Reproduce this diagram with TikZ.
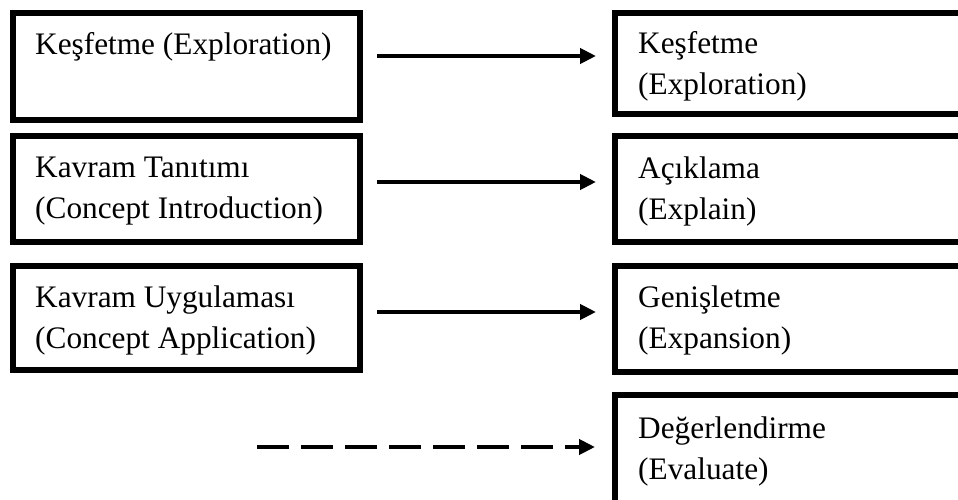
\documentclass[tikz,border=0pt]{standalone}
\usepackage{fontspec}
\setmainfont{Liberation Serif}
\usetikzlibrary{arrows.meta}
\begin{document}
\begin{tikzpicture}[x=1pt,y=-1pt,
  stage/.style={draw=black, line width=6pt, rectangle, outer sep=0pt,
    inner sep=0pt, anchor=north west},
  leftstage/.style={stage, minimum width=347pt},
  rightstage/.style={stage, minimum width=360pt},
  % base anchor of a two-line text sits on its last line
  stagetext/.style={anchor=base west, inner sep=0pt, align=left,
    font=\fontsize{31.3}{41}\selectfont},
  flow/.style={line width=4.5pt, -{Triangle[length=16pt,width=15pt]}},
  latent/.style={flow, dash pattern=on 32pt off 12pt}]
\useasboundingbox (0,0) rectangle (958,500);
\clip (0,0) rectangle (958,500);

% left column: the three phases of the first model
\node[leftstage, minimum height=107pt] (L1) at (13,13) {};
\node[leftstage, minimum height=106pt] (L2) at (13,136) {};
\node[leftstage, minimum height=104pt] (L3) at (13,266) {};

\node[stagetext] (tL1) at (35,55) {Keşfetme (Exploration)};
\node[stagetext] (tL2) at (35,218) {Kavram Tanıtımı\\(Concept Introduction)};
\node[stagetext] (tL3) at (35,348) {Kavram Uygulaması\\(Concept Application)};

% right column: the four phases of the extended model
\node[rightstage, minimum height=101pt] (R1) at (615,13) {};
\node[rightstage, minimum height=106pt] (R2) at (615,136) {};
\node[rightstage, minimum height=106pt] (R3) at (615,266) {};
\node[rightstage, minimum height=130pt] (R4) at (615,395) {};

\node[stagetext] (tR1) at (638,95) {Keşfetme\\(Exploration)};
\node[stagetext] (tR2) at (638,219) {Açıklama\\(Explain)};
\node[stagetext] (tR3) at (638,348) {Genişletme\\(Expansion)};
\node[stagetext] (tR4) at (638,479) {Değerlendirme\\(Evaluate)};

% connector end points between the columns
\coordinate (a1s) at (377,56);  \coordinate (a1e) at (596,56);
\coordinate (a2s) at (377,182); \coordinate (a2e) at (596,182);
\coordinate (a3s) at (377,312); \coordinate (a3e) at (596,312);
\coordinate (a4s) at (257,447); \coordinate (a4e) at (595,447);

\draw[flow] (a1s) -- (a1e);
\draw[flow] (a2s) -- (a2e);
\draw[flow] (a3s) -- (a3e);
\draw[latent] (a4s) -- (a4e);
\end{tikzpicture}
\end{document}
